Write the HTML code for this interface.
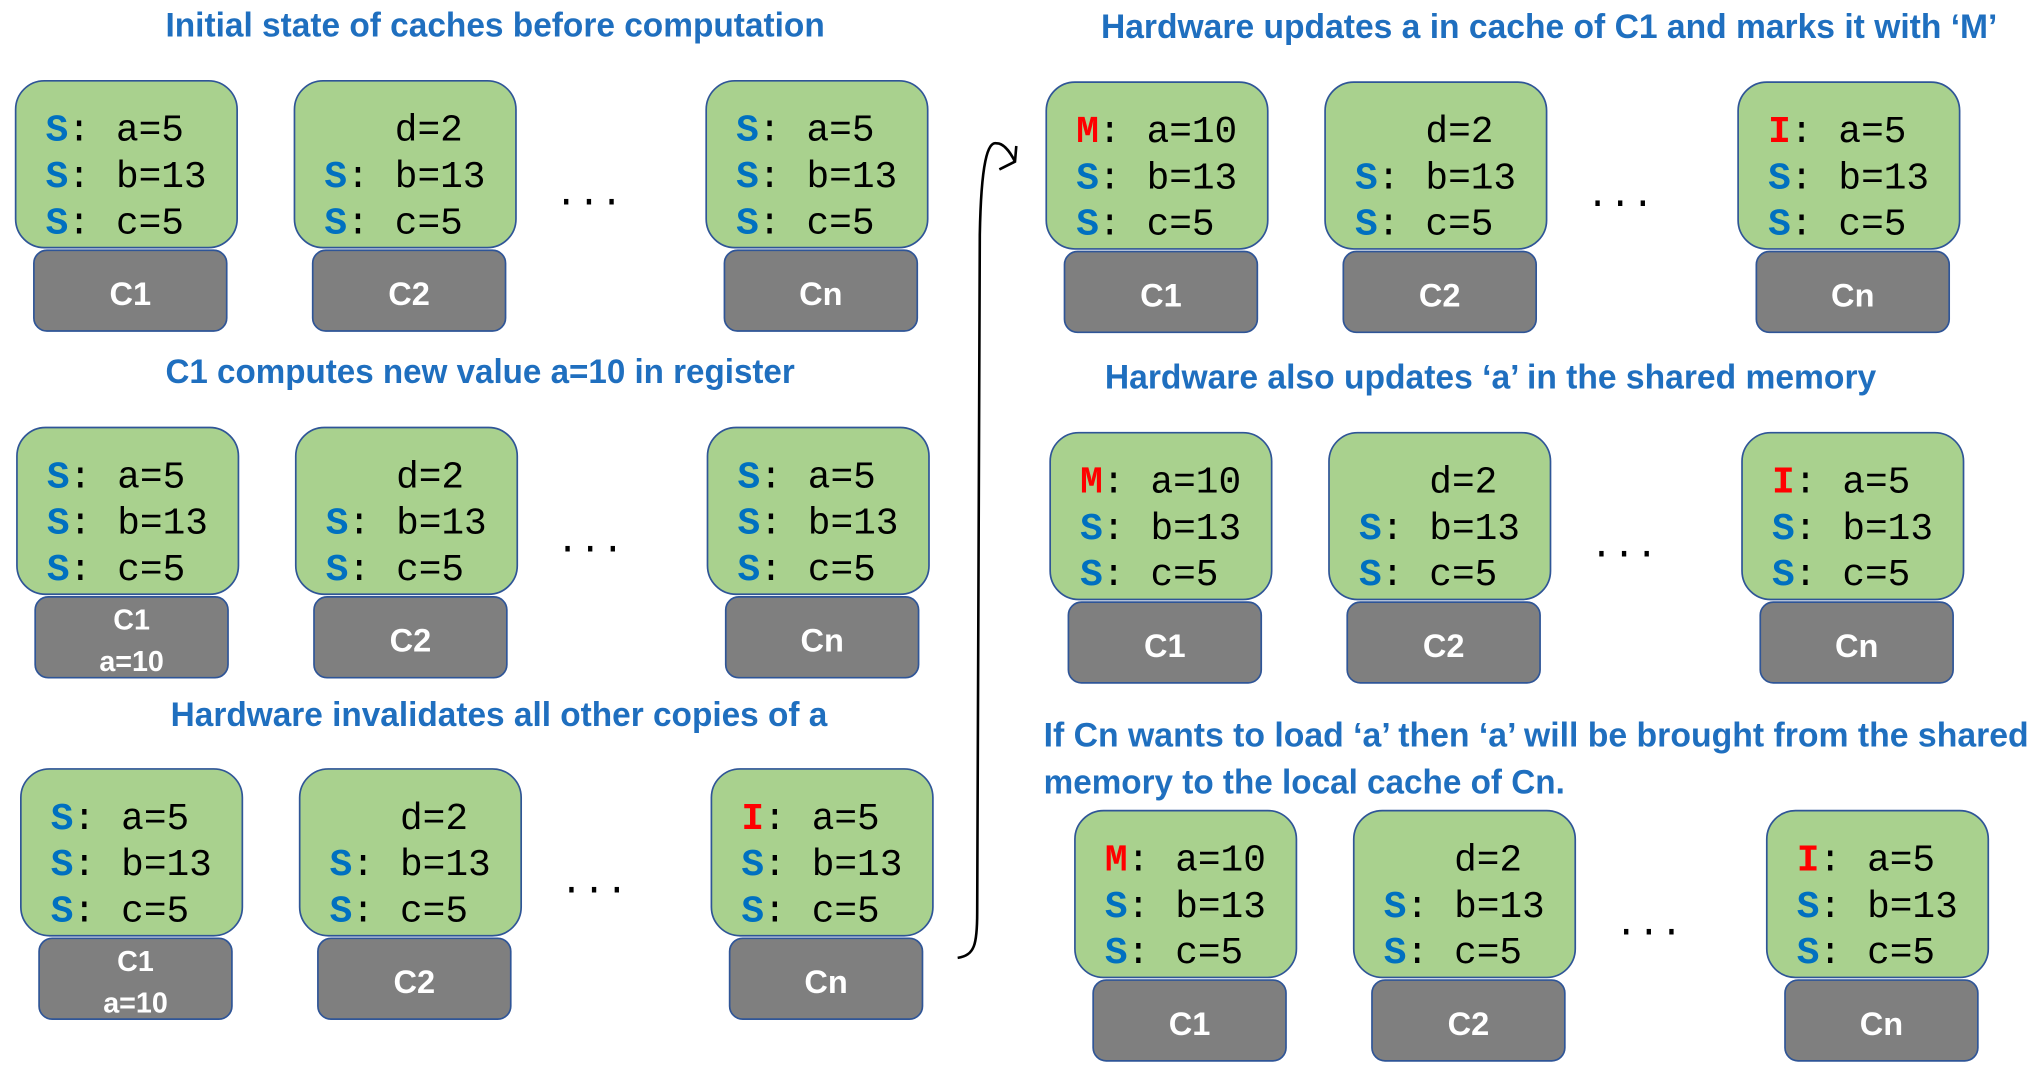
<!DOCTYPE html>
<html><head><meta charset="utf-8"><style>
html,body{margin:0;padding:0;background:#fff;overflow:hidden}
svg{display:block}
.title{font-family:"Liberation Sans",sans-serif;font-weight:bold;fill:#1F6FBF}
.mono{font-family:"Liberation Mono",monospace;font-size:29px}
.core{font-family:"Liberation Sans",sans-serif;font-weight:bold;fill:#fff}
</style></head><body>
<svg id="chart" width="2043" height="1083" viewBox="0 0 1568 831" preserveAspectRatio="none" xmlns="http://www.w3.org/2000/svg">
<path d="M735,735 C748,733 750,725 750,700 L752,180 C753,125 758,108 765,110 C770,110 775,116 779,124" fill="none" stroke="#000" stroke-width="2"/>
<path d="M780,112 L779,124 L767,130" fill="none" stroke="#000" stroke-width="2"/>
</svg>
<script>
const NS='http://www.w3.org/2000/svg';
const svg=document.getElementById('chart');
const panelTitles=[
 ['Initial state of caches before computation'],
 ['C1 computes new value a=10 in register'],
 ['Hardware invalidates all other copies of a'],
 ['Hardware updates a in cache of C1 and marks it with \u2018M\u2019'],
 ['Hardware also updates \u2018a\u2019 in the shared memory'],
 ['If Cn wants to load \u2018a\u2019 then \u2018a\u2019 will be brought from the shared','memory to the local cache of Cn.']
];
const titlePos=[[127,19,506],[127,285,483],[131,548,504],[845,20,688],[848,289,592],[801,564,756]];
const c1State=['S','S','S','M','M','M'];
const c1A=['a=5','a=5','a=5','a=10','a=10','a=10'];
const cnState=['S','S','I','I','I','I'];
const c1Sub=[false,true,true,false,false,false];
const boxX=[[12,226,542],[13,227,543],[16,230,546],[803,1017,1334],[806,1020,1337],[825,1039,1356]];
const boxY=[62,328,590,63,332,622];
function el(tag,attrs,parent){const e=document.createElementNS(NS,tag);for(const k in attrs)e.setAttribute(k,attrs[k]);(parent||svg).appendChild(e);return e;}
function txt(x,y,s,cls,parent,fill){const t=el('text',{x:x,y:y,class:cls},parent);if(fill)t.setAttribute('fill',fill);t.textContent=s;return t;}
const col={S:'#0070C0',M:'#FF0000',I:'#FF0000'};
for(let p=0;p<6;p++){
 const g=el('g',{});
 
 
 const tp=titlePos[p];
 panelTitles[p].forEach((line,i)=>{
  const t=el('text',{x:tp[0],y:tp[1]+9+i*36,class:'title','font-size':26},g);
  if(i===0)t.setAttribute('textLength',tp[2]);else t.setAttribute('textLength',400);
  t.setAttribute('lengthAdjust','spacingAndGlyphs');
  
  
  t.textContent=line;
 });
 const names=['C1','C2','Cn'];
 for(let c=0;c<3;c++){
  const x=boxX[p][c],y=boxY[p];
  const cg=el('g',{},g);
  
  
  const gr=el('rect',{x:x+14,y:y+130,width:148,height:62,rx:10,fill:'#7F7F7F',stroke:'#2F5597','stroke-width':1.3},cg);
  
  
  const cache=el('rect',{x:x,y:y,width:170,height:128,rx:22,fill:'#A9D18E',stroke:'#2F5597','stroke-width':1.3},cg);
  
  
  if(c===0&&c1Sub[p]){
   const a=txt(x+88,y+155,'C1','core',cg);a.setAttribute('text-anchor','middle');a.setAttribute('font-size','22');
   const s=txt(x+88,y+187,'a=10','core',cg);s.setAttribute('text-anchor','middle');s.setAttribute('font-size','22');
  } else {
   const t=txt(x+88,y+172,names[c],'core',cg);t.setAttribute('text-anchor','middle');t.setAttribute('font-size','25');
  }
  const rows=[];
  if(c===0)rows.push([c1State[p],c1A[p]]);
  else if(c===1)rows.push([null,'d=2']);
  else rows.push([cnState[p],'a=5']);
  rows.push(['S','b=13']);rows.push(['S','c=5']);
  rows.forEach((r,i)=>{
   const by=y+46+i*35.5;
   if(r[0]){
    const st=txt(x+23,by,r[0],'mono',cg,col[r[0]]);st.setAttribute('font-weight','bold');
    txt(x+40,by,':','mono',cg,'#000');
   }
   txt(x+77,by,r[1],'mono',cg,'#000');
  });
 }
 const dx=(boxX[p][1]+170+boxX[p][2])/2-17, dy=boxY[p]+95;
 const d=txt(dx,dy,'...','mono',g,'#000');d.setAttribute('text-anchor','middle');d.setAttribute('font-size','20');
 
 
}
</script>
</body></html>
